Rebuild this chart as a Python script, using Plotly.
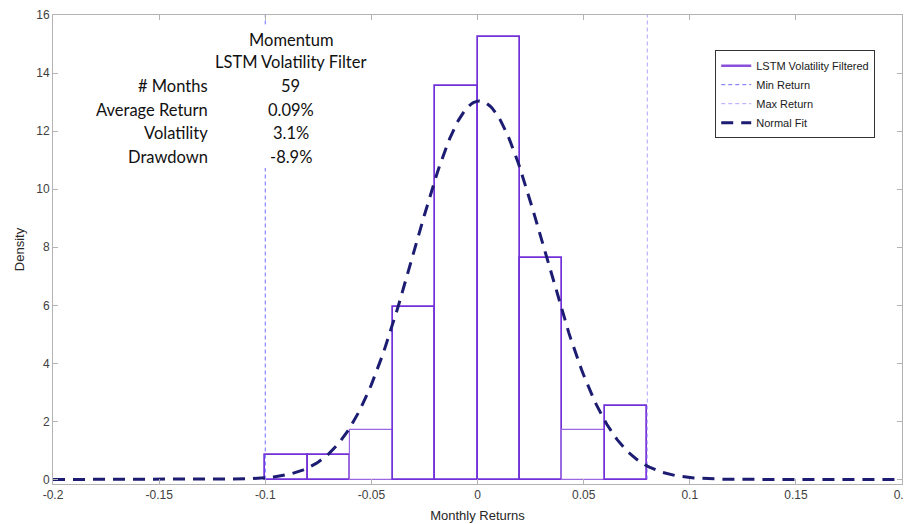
import numpy as np
import plotly.graph_objects as go

# ---- data ----
bin_edges = [-0.10, -0.08, -0.06, -0.04, -0.02, 0.00, 0.02, 0.04, 0.06, 0.08]
bin_counts = [1, 1, 2, 7, 16, 18, 9, 2, 3]
n_months = 59
mean_ret = 0.0009
vol = 0.0306
min_return = -0.10
max_return = 0.08
title_lines = ["Momentum", "LSTM Volatility Filter"]
stat_labels = ["# Months", "Average Return", "Volatility", "Drawdown"]
stat_values = ["59", "0.09%", "3.1%", "-8.9%"]
x_ticks = [-0.2, -0.15, -0.1, -0.05, 0, 0.05, 0.1, 0.15, 0.2]
x_tick_text = ["-0.2", "-0.15", "-0.1", "-0.05", "0", "0.05", "0.1", "0.15", "0.2"]
y_ticks = [0, 2, 4, 6, 8, 10, 12, 14, 16]

edges = np.array(bin_edges)
width = np.diff(edges)
centers = edges[:-1] + width / 2
density = np.array(bin_counts) / (n_months * width)

dark = "#7230d8"
light = "#9c68e2"
edge_colors = [light if c == 2 else dark for c in bin_counts]
edge_widths = [1.2 if c == 2 else 1.7 for c in bin_counts]

xs = np.linspace(-0.2, 0.2, 401)
pdf = np.exp(-0.5 * ((xs - mean_ret) / vol) ** 2) / (vol * np.sqrt(2 * np.pi))

fig = go.Figure()
fig.add_trace(go.Bar(x=centers, y=density, width=width,
                     marker=dict(color="rgba(0,0,0,0)",
                                 line=dict(color=edge_colors, width=edge_widths)),
                     showlegend=False, hoverinfo="x+y"))
fig.add_trace(go.Scatter(x=[None], y=[None], mode="lines", name="LSTM Volatility Filtered",
                         line=dict(color="#8a4fdc", width=2.5)))
fig.add_trace(go.Scatter(x=[min_return, min_return], y=[0, 16], mode="lines", name="Min Return",
                         line=dict(color="#6f6cff", width=1, dash="4px,3px")))
fig.add_trace(go.Scatter(x=[max_return, max_return], y=[0, 16], mode="lines", name="Max Return",
                         line=dict(color="#b1a4ff", width=1, dash="4px,3px")))
fig.add_trace(go.Scatter(x=xs, y=pdf, mode="lines", name="Normal Fit",
                         line=dict(color="#1c1c72", width=3, dash="12px,8px")))

# white box behind the stats text
fig.add_shape(type="rect", xref="paper", yref="paper", x0=0.05, x1=0.375, y0=0.674, y1=0.979,
              fillcolor="white", line=dict(width=0), layer="above")

txt_font = dict(family="Lato, Carlito, Calibri, sans-serif", size=16.5, color="#111111")
col_x = -0.088
lab_x = -0.126
for i, t in enumerate(title_lines):
    fig.add_annotation(x=col_x, y=15.15 - i * 0.77, xref="x", yref="y", text=t, showarrow=False,
                       xanchor="center", yanchor="middle", font=txt_font)
for i, (lab, val) in enumerate(zip(stat_labels, stat_values)):
    yy = 13.55 - i * 0.81
    fig.add_annotation(x=lab_x, y=yy, xref="x", yref="y", text=lab, showarrow=False,
                       xanchor="right", yanchor="middle", font=txt_font)
    fig.add_annotation(x=col_x, y=yy, xref="x", yref="y", text=val, showarrow=False,
                       xanchor="center", yanchor="middle", font=txt_font)

axis_common = dict(showline=True, linecolor="#b3b3b3", linewidth=1, mirror="allticks",
                   ticks="inside", ticklen=5, tickcolor="#b3b3b3", showgrid=False, zeroline=False,
                   automargin=False,
                   tickfont=dict(family="Arial, Liberation Sans, sans-serif", size=12, color="#404040"))

# the page body adds an 8px offset, so the figure is 8px smaller than the window
fig.update_layout(
    width=903, height=516,
    margin=dict(l=45, r=9, t=7, b=40),
    plot_bgcolor="white", paper_bgcolor="white",
    xaxis=dict(range=[-0.2, 0.2], tickvals=x_ticks, ticktext=x_tick_text,
               title=dict(text="Monthly Returns", standoff=9,
                          font=dict(family="Arial, Liberation Sans, sans-serif", size=13, color="#262626")),
               **axis_common),
    yaxis=dict(range=[-0.155, 16], tickvals=y_ticks,
               title=dict(text="Density", standoff=8,
                          font=dict(family="Arial, Liberation Sans, sans-serif", size=13, color="#262626")),
               **axis_common),
    legend=dict(x=0.78, y=0.925, xanchor="left", yanchor="top",
                bgcolor="white", bordercolor="#333333", borderwidth=1,
                font=dict(family="Arial, Liberation Sans, sans-serif", size=11, color="#1a1a1a"),
                tracegroupgap=0),
    bargap=0,
)

fig.write_html("out.html")
